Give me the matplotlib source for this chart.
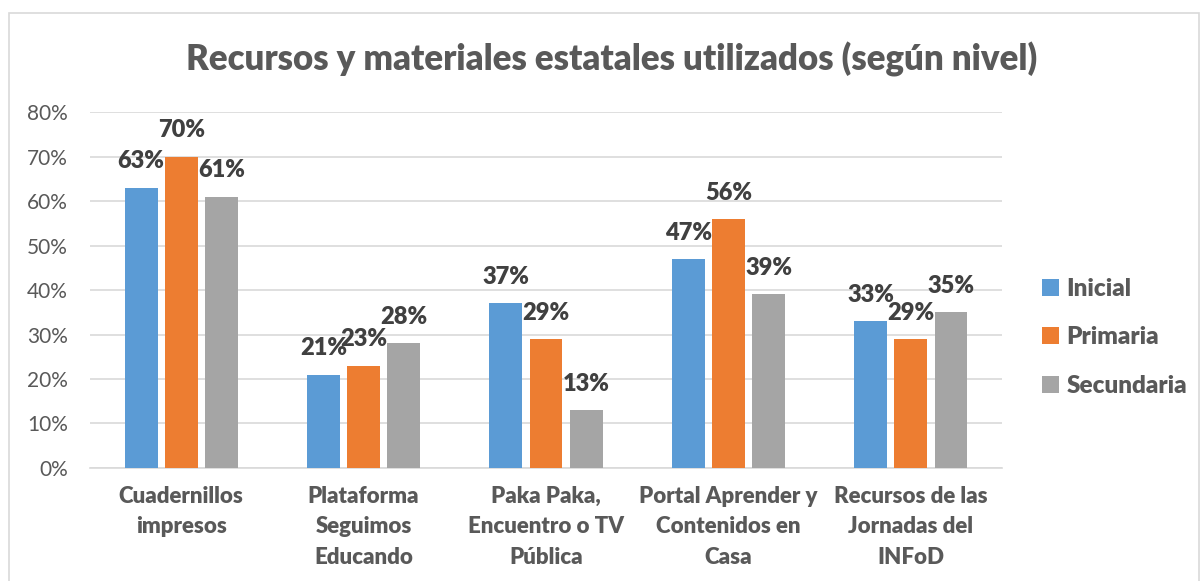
import numpy as np
import matplotlib
matplotlib.use("Agg")
from matplotlib import pyplot as plt
from matplotlib.patches import Rectangle

# Data
categories = ["Cuadernillos\nimpresos", "Plataforma\nSeguimos\nEducando",
              "Paka Paka,\nEncuentro o TV\nPública", "Portal Aprender y\nContenidos en\nCasa",
              "Recursos de las\nJornadas del\nINFoD"]
series_names = ["Inicial", "Primaria", "Secundaria"]
inicial = [0.63, 0.21, 0.37, 0.47, 0.33]
primaria = [0.70, 0.23, 0.29, 0.56, 0.29]
secundaria = [0.61, 0.28, 0.13, 0.39, 0.35]
y_ticks = [0, 0.1, 0.2, 0.3, 0.4, 0.5, 0.6, 0.7, 0.8]

colors = ["#5B9BD5", "#ED7D31", "#A5A5A5"]
text_color = "#595959"
grid_color = "#D9D9D9"
heavy = "heavy"

plt.rcParams["font.family"] = ["Lato", "DejaVu Sans"]

fig = plt.figure(figsize=(12.02, 5.81), dpi=100)
ax = fig.add_axes([0.0749, 0.1945, 0.7587, 0.6127])

# Chart border
fig.patches.append(Rectangle((9 / 1202, -0.05), 1190 / 1202, 1.05 - 13 / 581,
                             transform=fig.transFigure, fill=False,
                             edgecolor=grid_color, linewidth=1.2))

x = np.arange(len(categories))
width = 0.18
step = 0.22
all_series = [inicial, primaria, secundaria]

for i, (vals, name, col) in enumerate(zip(all_series, series_names, colors)):
    b = ax.bar(x + (i - 1) * step, vals, width, color=col, label=name, zorder=3)
    for rect, v in zip(b, vals):
        ax.annotate(f"{round(v * 100)}%", (rect.get_x() + rect.get_width() / 2, v),
                    xytext=(0, 11), textcoords="offset points", ha="center", va="bottom",
                    fontsize=17, fontweight=heavy, color="#404040")

ax.set_xlim(-0.5, len(categories) - 0.5)
ax.set_ylim(0, 0.8)
ax.set_yticks(y_ticks)
ax.set_yticklabels([f"{round(t * 100)}%" for t in y_ticks], fontsize=15, color=text_color)
ax.set_xticks(x)
ax.set_xticklabels(categories, fontsize=16, fontweight=heavy, color=text_color, linespacing=1.55)
ax.tick_params(axis="both", length=0)
ax.tick_params(axis="y", pad=16)
ax.tick_params(axis="x", pad=13)
ax.yaxis.grid(True, color=grid_color, linewidth=1.2, zorder=0)
for s in ["top", "right", "left"]:
    ax.spines[s].set_visible(False)
ax.spines["bottom"].set_color(grid_color)
ax.spines["bottom"].set_linewidth(1.2)

fig.text(0.509, 0.897, "Recursos y materiales estatales utilizados (según nivel)",
         ha="center", va="center", fontsize=25, fontweight=heavy, color=text_color)

leg = ax.legend(loc="center left", bbox_to_anchor=(1.02, 0.367), frameon=False,
                prop={"size": 17.5, "weight": heavy}, labelcolor=text_color,
                handlelength=0.7, handleheight=0.7, handletextpad=0.3, labelspacing=1.1)

fig.savefig("out.png", dpi=100)
